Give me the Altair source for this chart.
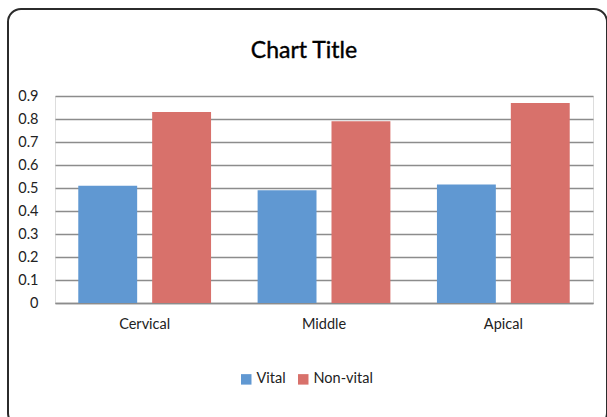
import altair as alt
import pandas as pd

# Measurements per root region
regions = ["Cervical", "Middle", "Apical"]
vital = [0.51, 0.49, 0.515]
non_vital = [0.83, 0.79, 0.87]
series_names = ["Vital", "Non-vital"]
colors = ["#6098D2", "#D8716B"]
y_ticks = [0, 0.1, 0.2, 0.3, 0.4, 0.5, 0.6, 0.7, 0.8, 0.9]
chart_title = "Chart Title"

rows = []
for r, v, nv in zip(regions, vital, non_vital):
    rows.append({"region": r, "series": "Vital", "value": v})
    rows.append({"region": r, "series": "Non-vital", "value": nv})
df = pd.DataFrame(rows)

FONT = "Lato"
LABEL_SIZE = 14.5
W, H = 538, 207

bars = alt.Chart(df).mark_bar().encode(
    x=alt.X("region:N", sort=regions,
            scale=alt.Scale(paddingInner=0, paddingOuter=0),
            axis=alt.Axis(title=None, labelAngle=0, ticks=False, domain=True,
                          domainColor="#8c8c8c", domainWidth=1.3,
                          labelFontSize=LABEL_SIZE, labelColor="#222", labelPadding=14,
                          labelFont=FONT, grid=False)),
    xOffset=alt.XOffset("series:N", sort=series_names,
                        scale=alt.Scale(paddingInner=0.203, paddingOuter=0.315)),
    y=alt.Y("value:Q",
            scale=alt.Scale(domain=[0, 0.9], nice=False),
            axis=alt.Axis(title=None, values=y_ticks, format=".1~f", ticks=False,
                          domain=False, grid=True, gridColor="#8c8c8c",
                          gridWidth=1.3, labelFontSize=LABEL_SIZE, labelColor="#222",
                          labelFont=FONT, labelPadding=17)),
    color=alt.Color("series:N", sort=series_names,
                    scale=alt.Scale(domain=series_names, range=colors),
                    legend=alt.Legend(title=None, orient="none", direction="horizontal",
                                      legendX=184, legendY=276, symbolType="square",
                                      symbolSize=110, symbolStrokeWidth=0,
                                      labelFont=FONT, labelFontSize=LABEL_SIZE,
                                      labelColor="#222", columnPadding=10,
                                      labelOffset=3)),
)

one_row = pd.DataFrame({"k": [0]})

# Chart heading, centred over the whole frame
heading = alt.Chart(one_row).mark_text(
    text=chart_title, font=FONT, fontSize=23, color="#000",
    align="center", baseline="middle", stroke="#000", strokeWidth=0.4
).encode(x=alt.value(249), y=alt.value(-45))

# Rounded outer frame around the whole chart
frame = alt.Chart(one_row).mark_rect(
    fill=None, stroke="#2b2b2b", strokeWidth=2, cornerRadius=13, clip=False
).encode(
    x=alt.value(-47), x2=alt.value(552), y=alt.value(-87), y2=alt.value(330)
)

chart = alt.layer(frame, heading, bars).properties(
    width=W, height=H,
    autosize=alt.AutoSizeParams(type="none"),
    padding={"left": 55, "top": 96, "right": 14, "bottom": 114},
).configure_view(stroke=None).configure(background="white")

chart.save("out.html", embed_options={"renderer": "svg", "actions": False})
